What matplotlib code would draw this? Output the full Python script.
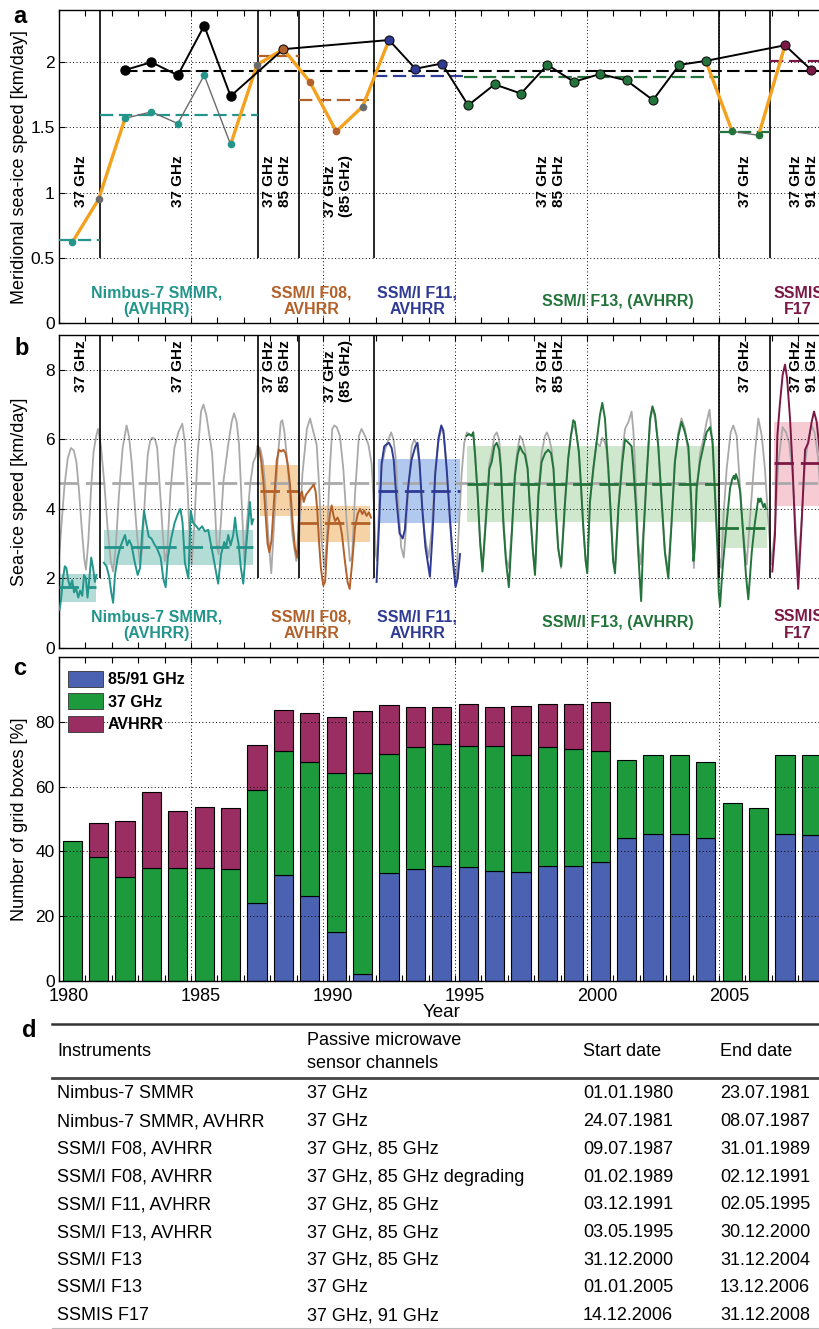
import numpy as np
import matplotlib
matplotlib.use("Agg")
import matplotlib.pyplot as plt
import matplotlib.transforms as mtransforms
from matplotlib.patches import Patch
from matplotlib.lines import Line2D

plt.rcParams['font.family'] = ['Liberation Sans', 'DejaVu Sans']
plt.rcParams['xtick.labelsize'] = 13
plt.rcParams['ytick.labelsize'] = 12.5

# ---------------- colours ----------------
TEAL, BROWN, BLUE, GREEN, PURPLE = '#23958b', '#b3612a', '#2f3a94', '#23743a', '#7b1846'
ORANGE, GREYM, GREYL = '#f4a11d', '#6b6b6b', '#a9a9a9'
sensor_col = {'nim': TEAL, 'mix': GREYM, 'f08': BROWN, 'f11': BLUE, 'f13': GREEN, 'f17': PURPLE}
band_col = {'nim': '#b3dcd7', 'f08': '#f5d3a6', 'f11': '#b1c9ee', 'f13': '#cfe7cc', 'f17': '#f7cbd4'}

# ---------------- panel a data ----------------
years = np.arange(1980, 2009)
merid_speed = [0.62, 0.95, 1.57, 1.62, 1.53, 1.90, 1.37, 1.98, 2.10, 1.85, 1.47, 1.66, 2.17, 1.95, 1.99,
               1.67, 1.83, 1.76, 1.98, 1.85, 1.91, 1.86, 1.71, 1.98, 2.01, 1.47, 1.44, 2.13, 1.94]
merid_sensor = ['nim', 'mix', 'nim', 'nim', 'nim', 'nim', 'nim', 'mix', 'f08', 'f08', 'f08', 'mix',
                'f11', 'f11', 'f11'] + ['f13'] * 12 + ['f17', 'f17']
merid_big = [0, 0, 0, 0, 0, 0, 0, 0, 1, 0, 0, 0, 1, 1, 1, 1, 1, 1, 1, 1, 1, 1, 1, 1, 1, 0, 0, 1, 1]
avhrr_years = [1982, 1983, 1984, 1985, 1986]
avhrr_speed = [1.94, 2.00, 1.90, 2.28, 1.74]
black_years = [1988, 1992, 1993, 1994, 1995, 1996, 1997, 1998, 1999, 2000, 2001, 2002, 2003, 2004, 2007, 2008]
orange_segments = [[1980, 1981, 1982], [1986, 1987, 1988, 1989, 1990, 1991, 1992], [2004, 2005], [2006, 2007]]
grey_segments = [[1982, 1983, 1984, 1985, 1986], [2005, 2006]]
overall_mean = 1.935

boundaries = [1981.56, 1987.52, 1989.08, 1991.92, 2005.0, 2006.95]
a_mean_x0 = [1980.0, 1981.56, 1987.52, 1989.08, 1991.92, 1995.33, 2005.0, 2006.95]
a_mean_x1 = [1981.56, 1987.52, 1989.08, 1991.92, 1995.33, 2005.0, 2006.95, 2009.0]
a_mean_val = [0.638, 1.592, 2.045, 1.712, 1.891, 1.889, 1.467, 2.011]
a_mean_sensor = ['nim', 'nim', 'f08', 'f08', 'f11', 'f13', 'f13', 'f17']

chan_labels = ['37 GHz', '37 GHz', '37 GHz\n85 GHz', '37 GHz\n(85 GHz)', '37 GHz\n85 GHz', '37 GHz', '37 GHz\n91 GHz']
chan_x = [1980.83, 1984.5, 1988.26, 1990.57, 1998.64, 2005.98, 2008.22]
sat_labels = ['Nimbus-7 SMMR,\n(AVHRR)', 'SSM/I F08,\nAVHRR', 'SSM/I F11,\nAVHRR', 'SSM/I F13, (AVHRR)', 'SSMIS\nF17']
sat_x = [1983.7, 1989.55, 1993.57, 2001.15, 2008.0]
sat_sensor = ['nim', 'f08', 'f11', 'f13', 'f17']

# ---------------- panel b data ----------------
grey_pts = [
    (1980.00, 2.6), (1980.10, 3.6), (1980.20, 4.6), (1980.33, 5.45), (1980.45, 5.75), (1980.56, 5.68), (1980.66, 5.35), (1980.76, 4.5), (1980.86, 3.45), (1980.96, 2.55),
    (1981.02, 2.25), (1981.11, 3.05), (1981.21, 4.5), (1981.31, 5.65), (1981.41, 6.1), (1981.48, 6.3), (1981.59, 5.8), (1981.72, 4.7), (1981.84, 3.45), (1981.96, 2.5),
    (1982.05, 2.2), (1982.15, 2.9), (1982.27, 4.4), (1982.41, 5.75), (1982.56, 6.4), (1982.65, 6.1), (1982.75, 5.35), (1982.88, 4.0), (1982.98, 3.05),
    (1983.07, 2.4), (1983.16, 2.9), (1983.26, 4.4), (1983.36, 5.55), (1983.45, 5.95), (1983.54, 6.05), (1983.64, 6.0), (1983.72, 5.75), (1983.82, 4.6), (1983.92, 3.4),
    (1984.01, 2.5), (1984.10, 2.8), (1984.22, 4.5), (1984.37, 5.75), (1984.52, 6.2), (1984.67, 6.45), (1984.77, 5.9), (1984.87, 4.6), (1984.96, 2.9),
    (1985.03, 2.4), (1985.13, 3.6), (1985.25, 5.55), (1985.38, 6.8), (1985.47, 7.0), (1985.58, 6.7), (1985.70, 6.1), (1985.80, 5.6), (1985.90, 4.2), (1985.97, 3.0),
    (1986.04, 2.7), (1986.13, 3.6), (1986.23, 4.8), (1986.41, 5.85), (1986.54, 6.5), (1986.63, 6.75), (1986.73, 6.5), (1986.82, 5.85), (1986.92, 4.2),
    (1987.02, 2.5), (1987.12, 3.6), (1987.24, 4.7), (1987.36, 5.35), (1987.45, 5.5), (1987.52, 5.8), (1987.62, 5.75), (1987.72, 5.4), (1987.82, 4.6), (1987.93, 3.2),
    (1988.04, 2.15), (1988.15, 3.6), (1988.27, 5.3), (1988.40, 6.5), (1988.46, 6.55), (1988.54, 6.2), (1988.69, 5.0), (1988.84, 3.25), (1988.99, 2.5),
    (1989.07, 2.8), (1989.22, 5.0), (1989.39, 6.3), (1989.51, 6.6), (1989.64, 6.2), (1989.76, 5.85), (1989.85, 4.7), (1989.95, 3.05),
    (1990.05, 2.3), (1990.14, 3.05), (1990.26, 5.15), (1990.35, 6.3), (1990.43, 6.4), (1990.52, 6.35), (1990.64, 6.1), (1990.77, 5.15), (1990.90, 3.6),
    (1991.02, 2.5), (1991.10, 2.6), (1991.21, 4.4), (1991.36, 6.1), (1991.46, 6.3), (1991.59, 6.1), (1991.72, 5.85), (1991.84, 5.3), (1991.92, 4.2),
    (1992.00, 2.7), (1992.05, 2.5), (1992.12, 4.0), (1992.22, 5.2), (1992.35, 5.7), (1992.48, 6.0), (1992.58, 6.2), (1992.67, 6.0), (1992.75, 5.5), (1992.85, 4.2), (1992.96, 2.9),
    (1993.06, 2.6), (1993.15, 3.5), (1993.25, 4.8), (1993.36, 5.8), (1993.46, 6.0), (1993.55, 5.85), (1993.64, 5.35), (1993.74, 4.3), (1993.86, 3.2),
    (1994.00, 2.6), (1994.12, 3.4), (1994.24, 5.0), (1994.36, 5.9), (1994.48, 6.3), (1994.58, 6.15), (1994.70, 5.0), (1994.82, 3.6), (1994.94, 2.5),
    (1995.05, 2.0), (1995.15, 3.5), (1995.25, 5.0), (1995.35, 5.9), (1995.45, 6.2), (1995.53, 6.15), (1995.63, 6.1), (1995.69, 6.2), (1995.76, 5.6), (1995.86, 4.4), (1995.95, 3.1),
    (1996.04, 2.3), (1996.20, 4.2), (1996.30, 5.3), (1996.39, 5.6), (1996.49, 6.1), (1996.58, 6.2), (1996.67, 6.0), (1996.74, 5.3), (1996.83, 3.8), (1996.93, 2.6),
    (1997.04, 2.3), (1997.15, 3.4), (1997.27, 5.1), (1997.37, 5.7), (1997.46, 6.1), (1997.55, 6.0), (1997.65, 5.7), (1997.75, 5.2), (1997.84, 4.0), (1997.95, 2.8),
    (1998.03, 2.2), (1998.16, 4.5), (1998.28, 5.6), (1998.41, 6.1), (1998.48, 6.2), (1998.56, 6.05), (1998.66, 5.7), (1998.74, 5.1), (1998.82, 4.0), (1998.91, 2.9),
    (1999.02, 2.3), (1999.17, 4.3), (1999.29, 5.5), (1999.39, 6.1), (1999.48, 6.4), (1999.54, 6.35), (1999.61, 6.1), (1999.69, 5.65), (1999.77, 4.7), (1999.86, 3.5), (1999.95, 2.5),
    (2000.01, 2.2), (2000.11, 4.2), (2000.24, 5.2), (2000.36, 5.9), (2000.49, 5.8), (2000.58, 6.05), (2000.68, 5.9), (2000.74, 5.7), (2000.81, 5.0), (2000.91, 3.7), (2000.99, 2.5),
    (2001.06, 2.3), (2001.19, 4.1), (2001.34, 5.6), (2001.44, 6.3), (2001.57, 6.5), (2001.69, 6.8), (2001.76, 6.2), (2001.86, 4.5), (2001.94, 3.0),
    (2002.04, 2.4), (2002.14, 3.4), (2002.26, 5.0), (2002.39, 6.5), (2002.48, 6.9), (2002.58, 6.6), (2002.70, 5.8), (2002.83, 4.2), (2002.95, 2.8),
    (2003.07, 2.2), (2003.20, 3.6), (2003.33, 5.4), (2003.46, 6.2), (2003.58, 6.6), (2003.71, 6.3), (2003.84, 5.6), (2003.94, 4.0),
    (2004.05, 2.3), (2004.15, 4.4), (2004.28, 5.6), (2004.41, 6.0), (2004.53, 6.5), (2004.64, 6.85), (2004.74, 6.0), (2004.85, 4.4), (2004.96, 2.8),
    (2005.08, 2.3), (2005.18, 3.9), (2005.29, 5.15), (2005.44, 6.2), (2005.54, 6.4), (2005.67, 6.1), (2005.79, 4.7), (2005.92, 3.25),
    (2006.05, 2.4), (2006.17, 3.7), (2006.36, 5.6), (2006.49, 6.6), (2006.62, 6.1), (2006.74, 5.15), (2006.87, 3.6), (2006.99, 2.4),
    (2007.12, 3.45), (2007.25, 5.35), (2007.41, 6.35), (2007.54, 6.2), (2007.66, 5.9), (2007.78, 5.0), (2007.90, 3.5), (2008.00, 2.3),
    (2008.13, 3.7), (2008.26, 5.3), (2008.38, 6.0), (2008.50, 6.4), (2008.62, 6.2), (2008.75, 5.5), (2008.88, 4.0), (2008.98, 2.6),
]
nim1_pts = [(1980.02, 1.1), (1980.08, 1.4), (1980.15, 2.0), (1980.22, 2.35), (1980.28, 2.3), (1980.35, 1.95), (1980.42, 1.75),
            (1980.50, 1.95), (1980.57, 1.6), (1980.65, 1.7), (1980.73, 1.45), (1980.80, 1.65), (1980.88, 1.5), (1980.95, 2.1),
            (1981.02, 2.0), (1981.08, 1.45), (1981.15, 2.0), (1981.22, 2.6), (1981.29, 2.3), (1981.36, 1.9), (1981.42, 2.1)]
nim2_pts = [(1981.70, 2.45), (1981.80, 2.35), (1981.90, 2.05), (1981.98, 1.6), (1982.05, 1.3), (1982.12, 2.1), (1982.22, 2.6),
            (1982.32, 2.9), (1982.42, 3.1), (1982.50, 3.25), (1982.58, 2.95), (1982.66, 3.1), (1982.75, 2.95), (1982.86, 2.5),
            (1982.98, 2.1), (1983.07, 2.3), (1983.15, 3.3), (1983.22, 3.95), (1983.30, 3.6), (1983.40, 3.2), (1983.50, 3.15),
            (1983.60, 3.0), (1983.72, 2.85), (1983.85, 2.6), (1983.95, 2.0), (1984.04, 1.75), (1984.12, 2.6), (1984.25, 3.15),
            (1984.38, 3.6), (1984.50, 3.85), (1984.60, 4.0), (1984.68, 3.6), (1984.77, 2.45), (1984.90, 2.0), (1984.99, 3.95),
            (1985.08, 3.6), (1985.20, 3.5), (1985.30, 3.4), (1985.42, 3.5), (1985.53, 3.35), (1985.65, 3.4), (1985.75, 3.0),
            (1985.85, 2.6), (1985.92, 2.3), (1986.03, 1.85), (1986.14, 2.7), (1986.26, 3.05), (1986.33, 2.9), (1986.41, 3.25),
            (1986.50, 2.95), (1986.60, 3.25), (1986.67, 3.75), (1986.73, 3.3), (1986.80, 3.0), (1986.89, 2.3), (1986.98, 1.85),
            (1987.07, 2.75), (1987.17, 3.6), (1987.23, 4.2), (1987.30, 3.55), (1987.36, 3.7)]
f08_pts = [(1987.53, 5.8), (1987.60, 5.65), (1987.67, 5.3), (1987.74, 4.8), (1987.82, 3.9), (1987.90, 3.0), (1987.97, 2.75),
           (1988.05, 3.1), (1988.15, 4.3), (1988.25, 5.4), (1988.33, 5.7), (1988.42, 5.65), (1988.50, 5.7), (1988.58, 5.6),
           (1988.66, 5.3), (1988.75, 4.7), (1988.85, 3.6), (1988.94, 2.85), (1989.02, 2.6),
           (1989.09, 3.8), (1989.14, 4.4), (1989.20, 4.5), (1989.27, 4.2), (1989.35, 4.4), (1989.45, 4.5), (1989.55, 4.6),
           (1989.65, 4.7), (1989.72, 4.5), (1989.78, 4.0), (1989.85, 3.05), (1989.92, 2.3), (1990.01, 1.8), (1990.08, 1.9),
           (1990.18, 3.25), (1990.26, 3.85), (1990.33, 4.1), (1990.40, 3.8), (1990.46, 3.65), (1990.55, 3.75), (1990.64, 3.6),
           (1990.72, 3.25), (1990.83, 2.5), (1990.93, 1.9), (1991.01, 1.7), (1991.11, 2.5), (1991.21, 3.45), (1991.31, 3.85),
           (1991.40, 4.0), (1991.49, 3.85), (1991.56, 3.95), (1991.65, 3.8), (1991.74, 3.9), (1991.82, 3.75)]
f11_pts = [(1992.03, 1.9), (1992.12, 3.5), (1992.22, 5.3), (1992.32, 5.8), (1992.40, 5.85), (1992.50, 5.9), (1992.60, 5.75),
           (1992.68, 5.4), (1992.78, 4.3), (1992.90, 3.3), (1993.02, 3.15), (1993.10, 3.4), (1993.22, 4.6), (1993.35, 5.4),
           (1993.50, 5.8), (1993.58, 5.9), (1993.66, 5.3), (1993.76, 4.0), (1993.88, 2.9), (1994.05, 2.05), (1994.15, 3.3),
           (1994.25, 5.0), (1994.38, 6.05), (1994.48, 6.4), (1994.56, 6.25), (1994.68, 5.2), (1994.80, 3.8), (1994.92, 2.5),
           (1995.02, 1.75), (1995.10, 2.0), (1995.19, 2.7)]
f13_pts = [(1995.44, 6.1), (1995.53, 6.15), (1995.63, 6.1), (1995.69, 6.2), (1995.76, 5.55), (1995.86, 4.4), (1995.95, 3.05),
           (1996.04, 2.2), (1996.20, 4.0), (1996.30, 5.15), (1996.39, 5.35), (1996.49, 5.8), (1996.58, 5.9), (1996.67, 5.7),
           (1996.74, 5.15), (1996.83, 3.6), (1996.93, 2.5), (1997.04, 1.75), (1997.15, 3.25), (1997.27, 4.95), (1997.37, 5.55),
           (1997.46, 5.8), (1997.55, 5.65), (1997.65, 5.55), (1997.75, 5.15), (1997.84, 4.0), (1997.95, 2.8), (1998.03, 2.1),
           (1998.16, 4.4), (1998.28, 5.35), (1998.41, 5.6), (1998.53, 5.7), (1998.64, 5.6), (1998.73, 5.15), (1998.81, 4.0),
           (1998.91, 2.85), (1999.02, 2.35), (1999.17, 4.2), (1999.29, 5.45), (1999.39, 6.1), (1999.48, 6.55), (1999.54, 6.5),
           (1999.61, 6.1), (1999.69, 5.65), (1999.77, 4.7), (1999.86, 3.45), (1999.95, 2.5), (2000.01, 2.15), (2000.11, 4.2),
           (2000.24, 5.15), (2000.36, 5.9), (2000.49, 6.7), (2000.58, 7.05), (2000.68, 6.6), (2000.74, 5.9), (2000.81, 5.15),
           (2000.91, 3.7), (2000.99, 2.5), (2001.06, 2.15), (2001.19, 4.0), (2001.34, 5.35), (2001.44, 6.0), (2001.57, 5.9),
           (2001.69, 5.8), (2001.76, 5.15), (2001.86, 4.0), (2001.94, 2.75), (2002.05, 1.35), (2002.14, 3.25), (2002.26, 4.95),
           (2002.39, 6.6), (2002.48, 6.95), (2002.58, 6.7), (2002.70, 5.8), (2002.83, 4.2), (2002.95, 2.75), (2003.08, 2.0),
           (2003.20, 3.55), (2003.33, 5.35), (2003.46, 6.1), (2003.58, 6.5), (2003.71, 6.2), (2003.84, 5.8), (2003.94, 4.4),
           (2004.03, 2.5), (2004.08, 2.9), (2004.15, 4.6), (2004.28, 5.35), (2004.41, 5.8), (2004.53, 6.2), (2004.66, 6.35),
           (2004.76, 5.9), (2004.85, 4.4), (2004.94, 2.85), (2004.99, 1.6),
           (2005.04, 1.2), (2005.10, 1.9), (2005.16, 2.5), (2005.29, 3.6), (2005.42, 4.6), (2005.50, 4.85), (2005.56, 4.95),
           (2005.60, 4.85), (2005.64, 5.0), (2005.73, 4.8), (2005.80, 4.5), (2005.92, 3.25), (2006.02, 2.1), (2006.11, 1.4),
           (2006.24, 2.75), (2006.36, 3.6), (2006.49, 4.3), (2006.54, 4.2), (2006.58, 4.3), (2006.68, 4.05), (2006.73, 4.15),
           (2006.78, 4.0)]
f17_pts = [(2007.02, 2.2), (2007.12, 3.25), (2007.21, 6.1), (2007.31, 7.05), (2007.41, 7.85), (2007.50, 8.15), (2007.58, 7.75),
           (2007.69, 6.6), (2007.79, 5.15), (2007.89, 3.25), (2008.00, 1.7), (2008.13, 3.6), (2008.26, 5.7), (2008.38, 5.9),
           (2008.51, 6.5), (2008.60, 6.8), (2008.70, 6.5), (2008.85, 5.4), (2008.98, 3.0)]
series_b = [(nim1_pts, 'nim'), (nim2_pts, 'nim'), (f08_pts, 'f08'), (f11_pts, 'f11'), (f13_pts, 'f13'), (f17_pts, 'f17')]

b_band_x0 = [1980.0, 1981.70, 1987.60, 1989.07, 1992.07, 1995.46, 2005.0, 2007.10]
b_band_x1 = [1981.40, 1987.36, 1989.06, 1991.78, 1995.19, 2004.97, 2006.80, 2009.0]
b_band_lo = [1.33, 2.38, 3.80, 3.05, 3.58, 3.62, 2.88, 4.08]
b_band_hi = [2.14, 3.39, 5.25, 4.07, 5.43, 5.82, 4.02, 6.50]
b_mean = [1.74, 2.89, 4.51, 3.58, 4.52, 4.73, 3.46, 5.32]
b_sensor = ['nim', 'nim', 'f08', 'f08', 'f11', 'f13', 'f13', 'f17']
grey_mean = 4.75

# ---------------- panel c data ----------------
pct_8591 = [0, 0, 0, 0, 0, 0, 0, 24.0, 32.6, 26.3, 15.2, 2.1, 33.4, 34.5, 35.5, 35.3, 33.9, 33.7, 35.5, 35.5,
            36.8, 44.0, 45.4, 45.3, 44.2, 0, 0, 45.5, 45.1]
pct_37 = [43.2, 38.4, 32.0, 34.8, 34.8, 34.9, 34.6, 35.1, 38.4, 41.2, 48.9, 62.1, 36.6, 37.6, 37.8, 37.3, 38.7,
          36.0, 36.8, 36.0, 34.3, 24.1, 24.5, 24.4, 23.5, 54.8, 53.5, 24.2, 24.6]
pct_avhrr = [0, 10.4, 17.3, 23.5, 17.7, 18.8, 18.8, 13.6, 12.7, 15.2, 17.5, 19.2, 15.2, 12.4, 11.4, 12.8, 12.1,
             15.1, 13.3, 14.0, 14.9, 0, 0, 0, 0, 0, 0, 0, 0]
bar_labels = ['85/91 GHz', '37 GHz', 'AVHRR']
bar_colors = ['#4a62b1', '#1c9a3c', '#9a2d62']

# ---------------- panel d data ----------------
tab_header = ['Instruments', 'Passive microwave\nsensor channels', 'Start date', 'End date']
tab_instr = ['Nimbus-7 SMMR', 'Nimbus-7 SMMR, AVHRR', 'SSM/I F08, AVHRR', 'SSM/I F08, AVHRR', 'SSM/I F11, AVHRR',
             'SSM/I F13, AVHRR', 'SSM/I F13', 'SSM/I F13', 'SSMIS F17']
tab_chan = ['37 GHz', '37 GHz', '37 GHz, 85 GHz', '37 GHz, 85 GHz degrading', '37 GHz, 85 GHz', '37 GHz, 85 GHz',
            '37 GHz, 85 GHz', '37 GHz', '37 GHz, 91 GHz']
tab_start = ['01.01.1980', '24.07.1981', '09.07.1987', '01.02.1989', '03.12.1991', '03.05.1995', '31.12.2000',
             '01.01.2005', '14.12.2006']
tab_end = ['23.07.1981', '08.07.1987', '31.01.1989', '02.12.1991', '02.05.1995', '30.12.2000', '31.12.2004',
           '13.12.2006', '31.12.2008']

# ---------------- figure ----------------
W_PX, H_PX = 819, 1329
fig = plt.figure(figsize=(W_PX / 100, H_PX / 100), dpi=100)
L = 59 / W_PX
WID = 29 * 26.4 / W_PX


def fy(py):
    return 1 - py / H_PX


def style(ax, yticks, ylabels, ylabel):
    ax.set_xlim(1980, 2009)
    ax.set_xticks(range(1980, 2010, 5))
    ax.set_xticks(range(1980, 2010), minor=True)
    ax.tick_params(which='both', direction='in', top=True, right=True, length=4, width=0.8)
    ax.tick_params(axis='y', pad=3)
    ax.set_yticks(yticks)
    ax.set_yticklabels(ylabels)
    ax.grid(True, which='major', linestyle=(0, (1, 2.5)), color='k', lw=0.7)
    ax.set_axisbelow(False)
    for s in ax.spines.values():
        s.set_linewidth(1.0)
    ax.set_ylabel(ylabel, fontsize=13)
    ax.yaxis.set_label_coords(-0.04, 0.5)


# ===== panel a =====
axa = fig.add_axes([L, fy(323.3), WID, (323.3 - 10) / H_PX])
style(axa, [0, 0.5, 1, 1.5, 2], ['0', '0.5', '1', '1.5', '2'], 'Meridional sea-ice speed [km/day]')
axa.set_ylim(0, 2.4)
axa.tick_params(axis='x', labelbottom=False)
axa.vlines(boundaries, 0.5, 2.4, color='k', lw=1.2, zorder=3)
ms = dict(zip(years, merid_speed))
for x0, x1, v, s in zip(a_mean_x0, a_mean_x1, a_mean_val, a_mean_sensor):
    axa.plot([x0, x1], [v, v], color=sensor_col[s], lw=1.6, dashes=(6, 2.5), zorder=4)
axa.plot([1982.5, 2009], [overall_mean, overall_mean], color='k', lw=1.5, dashes=(6, 2.5), zorder=4)
for seg in orange_segments:
    axa.plot(np.array(seg) + 0.5, [ms[y] for y in seg], color=ORANGE, lw=2.4, zorder=5)
for seg in grey_segments:
    axa.plot(np.array(seg) + 0.5, [ms[y] for y in seg], color=GREYM, lw=1.0, zorder=5)
bx = list(np.array(avhrr_years) + 0.5) + list(np.array(black_years) + 0.5)
by = list(avhrr_speed) + [ms[y] for y in black_years]
axa.plot(bx, by, color='k', lw=1.4, zorder=6)
axa.plot(np.array(avhrr_years) + 0.5, avhrr_speed, 'o', color='k', ms=6.5, zorder=7)
for y, v, s, big in zip(years, merid_speed, merid_sensor, merid_big):
    if big:
        axa.plot(y + 0.5, v, 'o', color=sensor_col[s], mec='#111111', mew=0.8, ms=6.5, zorder=8)
    else:
        axa.plot(y + 0.5, v, 'o', color=sensor_col[s], mec=sensor_col[s], ms=4.5, zorder=8)
for lab, x in zip(chan_labels, chan_x):
    axa.text(x, 1.29, lab, rotation=90, ha='center', va='top', multialignment='left',
             fontsize=11, fontweight='bold', linespacing=1.25, zorder=9)
for lab, x, s in zip(sat_labels, sat_x, sat_sensor):
    axa.text(x, 0.17, lab, ha='center', va='center', multialignment='center', color=sensor_col[s],
             fontsize=11.5, fontweight='bold', linespacing=1.1, zorder=9)

# ===== panel b =====
axb = fig.add_axes([L, fy(648), WID, (648 - 335) / H_PX])
style(axb, [0, 2, 4, 6, 8], ['0', '2', '4', '6', '8'], 'Sea-ice speed [km/day]')
axb.set_ylim(0, 9)
axb.tick_params(axis='x', labelbottom=False)
for x0, x1, lo, hi, s in zip(b_band_x0, b_band_x1, b_band_lo, b_band_hi, b_sensor):
    axb.fill_between([x0, x1], [lo, lo], [hi, hi], color=band_col[s], lw=0, zorder=1)
gt, gv = zip(*grey_pts)
axb.plot(gt, gv, color=GREYL, lw=1.3, zorder=2)
axb.plot([1980, 2009], [grey_mean, grey_mean], color=GREYL, lw=2.0, dashes=(7, 2.5), zorder=2.5)
for pts, s in series_b:
    t, v = zip(*pts)
    axb.plot(t, v, color=sensor_col[s], lw=1.4, zorder=3)
for x0, x1, m, s in zip(b_band_x0, b_band_x1, b_mean, b_sensor):
    axb.plot([x0, x1], [m, m], color=sensor_col[s], lw=2.0, dashes=(7, 2.5), zorder=4)
axb.vlines(boundaries, 2, 9, color='k', lw=1.2, zorder=5)
for lab, x in zip(chan_labels, chan_x):
    axb.text(x, 8.85, lab, rotation=90, ha='center', va='top', multialignment='left',
             fontsize=11, fontweight='bold', linespacing=1.25, zorder=9)
for lab, x, s in zip(sat_labels, sat_x, sat_sensor):
    yy = 0.72 if '\n' not in lab else 0.66
    axb.text(x, yy, lab, ha='center', va='center', multialignment='center', color=sensor_col[s],
             fontsize=11.5, fontweight='bold', linespacing=1.1, zorder=9)

# ===== panel c =====
axc = fig.add_axes([L, fy(981), WID, (981 - 657) / H_PX])
style(axc, [0, 20, 40, 60, 80], ['0', '20', '40', '60', '80'], 'Number of grid boxes [%]')
axc.set_ylim(0, 100)
xb = years + 0.5
bottom = np.zeros(len(years))
for vals, col in zip([pct_8591, pct_37, pct_avhrr], bar_colors):
    vals = np.array(vals, dtype=float)
    m = vals > 0
    axc.bar(xb[m], vals[m], bottom=bottom[m], width=0.72, color=col, edgecolor='k', lw=0.8, zorder=1)
    bottom = bottom + vals
axc.set_xticklabels([str(y) for y in range(1980, 2010, 5)])
axc.tick_params(axis='x', pad=5)
axc.set_xlabel('Year', fontsize=13.5, labelpad=-1)
off = mtransforms.ScaledTranslation(0.10, 0, fig.dpi_scale_trans)
for lab in axc.get_xticklabels():
    lab.set_transform(lab.get_transform() + off)
handles = [Patch(facecolor=c, edgecolor='#333333', lw=0.6) for c in bar_colors]
axc.legend(handles, bar_labels, loc='upper left', bbox_to_anchor=(0.012, 0.957), frameon=False,
           borderpad=0, borderaxespad=0, handlelength=2.15, handleheight=1.15, labelspacing=0.38,
           handletextpad=0.32, prop={'weight': 'bold', 'size': 11.5})

# ===== panel letters =====
fig.text(13 / W_PX, fy(5), 'a', fontsize=17, fontweight='bold', va='top', ha='left')
fig.text(14 / W_PX, fy(337), 'b', fontsize=17, fontweight='bold', va='top', ha='left')
fig.text(13 / W_PX, fy(657), 'c', fontsize=17, fontweight='bold', va='top', ha='left')
fig.text(22 / W_PX, fy(1019), 'd', fontsize=17, fontweight='bold', va='top', ha='left')

# ===== panel d: table =====
col_x = [57, 307, 583, 720]
fig.add_artist(Line2D([52 / W_PX, 1.0], [fy(1024)] * 2, color='#333333', lw=1.8))
fig.add_artist(Line2D([52 / W_PX, 1.0], [fy(1078)] * 2, color='#444444', lw=2.0))
fig.add_artist(Line2D([52 / W_PX, 1.0], [fy(1328)] * 2, color='#bbbbbb', lw=0.8))
for cx, h in zip(col_x, tab_header):
    fig.text(cx / W_PX, fy(1052), h, fontsize=13, va='center', ha='left', linespacing=1.4)
for i, row in enumerate(zip(tab_instr, tab_chan, tab_start, tab_end)):
    py = 1094 + 27.7 * i
    for cx, cell in zip(col_x, row):
        fig.text(cx / W_PX, fy(py), cell, fontsize=13, va='center', ha='left')

fig.savefig('out.png', dpi=100)
